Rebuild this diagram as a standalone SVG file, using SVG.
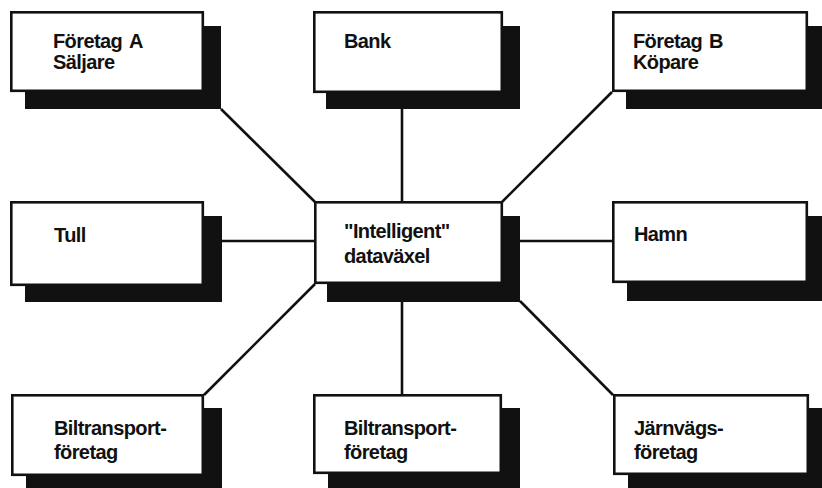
<svg xmlns="http://www.w3.org/2000/svg" width="822" height="488" viewBox="0 0 822 488">
  <style>
    .shadow { fill: #111; }
    .box { fill: #fff; stroke: #111; stroke-width: 2.6; }
    .lbl { font-family: "Liberation Sans", Arial, sans-serif; font-weight: bold; font-size: 20px; letter-spacing: -0.6px; fill: #111; }
    .wire { stroke: #111; stroke-width: 2.6; fill: none; }
  </style>
  <rect width="822" height="488" fill="#fff"/>

  <!-- connectors from the central switch -->
  <g id="connectors">
    <line class="wire" x1="221" y1="109" x2="315" y2="202"/>
    <line class="wire" x1="402" y1="109" x2="402" y2="202"/>
    <line class="wire" x1="612" y1="92" x2="502" y2="202"/>
    <line class="wire" x1="222" y1="241" x2="315" y2="241"/>
    <line class="wire" x1="520" y1="241" x2="612" y2="241"/>
    <line class="wire" x1="204" y1="395" x2="315" y2="284"/>
    <line class="wire" x1="402" y1="302" x2="402" y2="395"/>
    <line class="wire" x1="520" y1="301" x2="613" y2="395"/>
  </g>

  <g id="foretag-a">
    <rect class="shadow" x="25" y="26" width="196" height="83"/>
    <rect class="box" x="11.3" y="12.3" width="191.5" height="78.5"/>
    <text class="lbl" x="53" y="48">Företag<tspan x="129">A</tspan></text>
    <text class="lbl" x="53" y="69">Säljare</text>
  </g>

  <g id="bank">
    <rect class="shadow" x="326" y="26" width="194" height="83"/>
    <rect class="box" x="314.3" y="12.3" width="187.5" height="79.5"/>
    <text class="lbl" x="344" y="48">Bank</text>
  </g>

  <g id="foretag-b">
    <rect class="shadow" x="626" y="26" width="198" height="83"/>
    <rect class="box" x="613.3" y="12.3" width="193.5" height="78.5"/>
    <text class="lbl" x="633" y="48">Företag<tspan x="709">B</tspan></text>
    <text class="lbl" x="633" y="69">Köpare</text>
  </g>

  <g id="tull">
    <rect class="shadow" x="25" y="216" width="197" height="86"/>
    <rect class="box" x="11.3" y="202.3" width="191.5" height="82.5"/>
    <text class="lbl" x="54" y="242">Tull</text>
  </g>

  <g id="dataväxel">
    <rect class="shadow" x="327" y="216" width="193" height="86"/>
    <rect class="box" x="315.3" y="202.3" width="186.5" height="80.5"/>
    <text class="lbl" x="344" y="238">"Intelligent"</text>
    <text class="lbl" x="344" y="263">dataväxel</text>
  </g>

  <g id="hamn">
    <rect class="shadow" x="627" y="216" width="197" height="85"/>
    <rect class="box" x="613.3" y="202.3" width="193.5" height="79.5"/>
    <text class="lbl" x="634" y="241">Hamn</text>
  </g>

  <g id="biltransport-1">
    <rect class="shadow" x="26" y="408" width="196" height="84"/>
    <rect class="box" x="12.3" y="395.3" width="190.5" height="79.5"/>
    <text class="lbl" x="54" y="435">Biltransport-</text>
    <text class="lbl" x="54" y="459">företag</text>
  </g>

  <g id="biltransport-2">
    <rect class="shadow" x="328" y="408" width="192" height="84"/>
    <rect class="box" x="314.3" y="395.3" width="186.5" height="77.5"/>
    <text class="lbl" x="344" y="435">Biltransport-</text>
    <text class="lbl" x="344" y="459">företag</text>
  </g>

  <g id="jarnvag">
    <rect class="shadow" x="628" y="408" width="198" height="84"/>
    <rect class="box" x="614.3" y="395.3" width="193.5" height="78.5"/>
    <text class="lbl" x="634" y="435">Järnvägs-</text>
    <text class="lbl" x="634" y="459">företag</text>
  </g>
</svg>
